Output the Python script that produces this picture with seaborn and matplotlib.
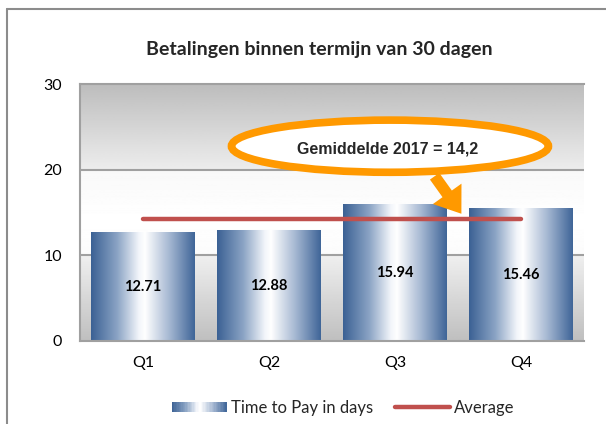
import numpy as np
import pandas as pd
import seaborn as sns
import matplotlib.pyplot as plt
from matplotlib.colors import LinearSegmentedColormap
from matplotlib.patches import Ellipse, Rectangle, Patch, FancyArrowPatch
from matplotlib.lines import Line2D
from matplotlib.legend_handler import HandlerBase

# data
quarters = ["Q1", "Q2", "Q3", "Q4"]
days = [12.71, 12.88, 15.94, 15.46]
average = [14.2, 14.2, 14.2, 14.2]
yticks = [0, 10, 20, 30]
title = "Betalingen binnen termijn van 30 dagen"
note = "Gemiddelde 2017 = 14,2"
bar_label = "Time to Pay in days"
line_label = "Average"

sns.set_style("white")
plt.rcParams["font.family"] = ["Lato", "DejaVu Sans"]

bar_cmap = LinearSegmentedColormap.from_list(
    "bar", [(0, "#3b6194"), (0.25, "#8aa3c4"), (0.46, "#f2f5fa"), (0.52, "#ffffff"),
            (0.75, "#a7b9d3"), (1, "#3f6598")])

df = pd.DataFrame({"quarter": quarters, "days": days})

fig = plt.figure(figsize=(6.06, 4.24), dpi=100)
ax = fig.add_axes([80/606, 1-341/424, 504/606, 257/424])

sns.barplot(data=df, x="quarter", y="days", width=0.825, color="#4f81bd", ax=ax, zorder=2)

# plot background gradient
ys = np.linspace(0, 30, 300)
shade = np.interp(ys, [0, 10, 10.01, 14, 20, 20.01, 30], [0.75, 0.94, 0.985, 1.0, 0.975, 0.93, 0.74])
ax.imshow(shade[:, None], extent=[-0.5, 3.5, 0, 30], origin="lower", cmap="gray",
          vmin=0, vmax=1, aspect="auto", zorder=0)

# gradient fill for bars
grad = np.linspace(0, 1, 256)[None, :]
for p in ax.patches:
    x, y = p.get_x(), p.get_y()
    w, h = p.get_width(), p.get_height()
    p.set_facecolor("none")
    p.set_edgecolor("none")
    ax.imshow(grad, extent=[x, x + w, y, y + h], cmap=bar_cmap, aspect="auto", zorder=2)

for i, v in enumerate(days):
    ax.text(i, v / 2, f"{v:.2f}", ha="center", va="center", fontsize=10.5,
            fontweight="bold", color="black", zorder=4)

sns.lineplot(x=np.arange(len(quarters)), y=average, ax=ax, color="#c0504d", lw=3.2,
             solid_capstyle="round", zorder=3, legend=False)

ax.set_xlim(-0.5, 3.5)
ax.set_ylim(0, 30)
ax.set_yticks(yticks)
ax.set_xticks(range(len(quarters)))
ax.set_xticklabels(quarters)
ax.set_xlabel("")
ax.set_ylabel("")
ax.tick_params(axis="both", length=0, labelsize=11.5, colors="black")
ax.tick_params(axis="y", pad=13)
ax.tick_params(axis="x", pad=11)
for yv in [10, 20]:
    ax.axhline(yv, color="#a0a0a0", lw=1.5, zorder=1)
for s in ["left", "bottom", "top"]:
    ax.spines[s].set_color("#a0a0a0")
    ax.spines[s].set_linewidth(1.5)
ax.spines["right"].set_visible(False)

# callout
ell = Ellipse((0.615, 0.758), 0.629, 0.203, transform=ax.transAxes, facecolor="white",
              edgecolor="#ff9900", lw=5.5, zorder=5, clip_on=False)
ax.add_patch(ell)
ax.text(0.61, 0.748, note, transform=ax.transAxes, ha="center", va="center",
        fontsize=11.5, fontweight="bold", family="Liberation Sans", zorder=6)
arr = FancyArrowPatch((433/606, 1-174/424), (463/606, 1-216/424), transform=fig.transFigure,
                      arrowstyle="simple,head_length=1.6,head_width=2.3,tail_width=0.75",
                      mutation_scale=11, color="#ff9900", lw=0, zorder=6)
fig.patches.append(arr)

fig.text(319/606, 1-49/424, title, ha="center", va="center", fontsize=14, fontweight="bold")

# chart border
fig.add_artist(Line2D([7/606, 7/606], [0, 1-9/424], color="#8c8c8c", lw=1.5))
fig.add_artist(Line2D([7/606, 1], [1-9/424, 1-9/424], color="#8c8c8c", lw=1.5))


class GradHandler(HandlerBase):
    def create_artists(self, legend, orig_handle, xdescent, ydescent, width, height, fontsize, trans):
        n = 40
        out = []
        for i in range(n):
            r = Rectangle((-xdescent + i * width / n, -ydescent), width / n * 1.1, height,
                          facecolor=bar_cmap((i + 0.5) / n), edgecolor="none", transform=trans)
            out.append(r)
        return out


handles = [Patch(label=bar_label), Line2D([], [], color="#c0504d", lw=3.2, label=line_label)]
fig.legend(handles=handles, loc="center", bbox_to_anchor=(343/606, 1-408/424), ncol=2,
           frameon=False, fontsize=12, handlelength=3.3, handleheight=0.6, handletextpad=0.25,
           columnspacing=1.3, handler_map={Patch: GradHandler()})

plt.savefig("out.png", dpi=100)
